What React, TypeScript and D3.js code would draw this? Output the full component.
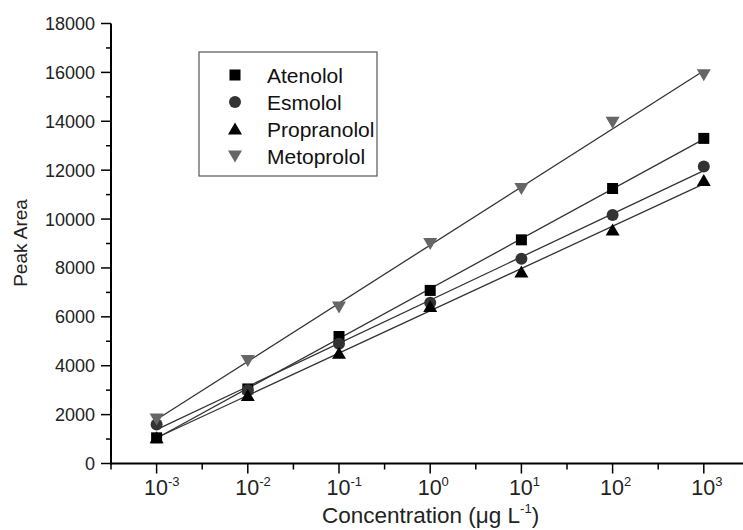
import React from "react";
import * as d3 from "d3";

const logConc = [-3, -2, -1, 0, 1, 2, 3];
const atenolol = [1050, 3050, 5195, 7080, 9150, 11250, 13300];
const esmolol = [1600, 3000, 4900, 6580, 8380, 10170, 12150];
const propranolol = [1050, 2780, 4510, 6420, 7830, 9550, 11580];
const metoprolol = [1820, 4210, 6400, 9000, 11250, 13960, 15900];
const yTicks = [0, 2000, 4000, 6000, 8000, 10000, 12000, 14000, 16000, 18000];
const xTickExps = ["-3", "-2", "-1", "0", "1", "2", "3"];

const series = [
  { name: "Atenolol", values: atenolol, shape: "square", color: "#000000" },
  { name: "Esmolol", values: esmolol, shape: "circle", color: "#333333" },
  { name: "Propranolol", values: propranolol, shape: "up", color: "#000000" },
  { name: "Metoprolol", values: metoprolol, shape: "down", color: "#666666" },
];

const FONT = "'Liberation Sans', Arial, sans-serif";

function fit(xs: number[], ys: number[]) {
  const mx = d3.mean(xs)!;
  const my = d3.mean(ys)!;
  let num = 0, den = 0;
  xs.forEach((x, i) => { num += (x - mx) * (ys[i] - my); den += (x - mx) ** 2; });
  const b = num / den;
  return { a: my - b * mx, b };
}

function Marker({ shape, x, y, color }: { shape: string; x: number; y: number; color: string }) {
  if (shape === "square") return <rect x={x - 5.5} y={y - 5.5} width={11} height={11} fill={color} />;
  if (shape === "circle") return <circle cx={x} cy={y} r={6} fill={color} />;
  if (shape === "up") return <path d={`M${x},${y - 6.5} L${x + 7},${y + 5.5} L${x - 7},${y + 5.5} Z`} fill={color} />;
  return <path d={`M${x},${y + 6.5} L${x + 7},${y - 5.5} L${x - 7},${y - 5.5} Z`} fill={color} />;
}

export default function App() {
  const W = 743, H = 530;
  const left = 111, bottom = 463.5, top = 23.5;
  const x = d3.scaleLinear().domain([-3.5, 3.5]).range([left, left + 7 * 91.2]);
  const y = d3.scaleLinear().domain([0, 18000]).range([bottom, top]);
  const minorY = d3.range(1000, 18000, 2000);
  const minorX = d3.range(-3.5, 3.6, 1);

  return (
    <svg width={W} height={H} style={{ position: "absolute", left: 0, top: 0, background: "#fff" }} fontFamily={FONT}>
      <rect width={W} height={H} fill="#fff" />
      {series.map((s) => {
        const f = fit(logConc, s.values);
        return (
          <line key={s.name} x1={x(-3)} y1={y(f.a + f.b * -3)} x2={x(3)} y2={y(f.a + f.b * 3)}
            stroke="#333" strokeWidth={1.3} />
        );
      })}
      {series.map((s) =>
        s.values.map((v, i) => (
          <Marker key={s.name + i} shape={s.shape} x={x(logConc[i])} y={y(v)} color={s.color} />
        ))
      )}
      <line x1={left} y1={top} x2={left} y2={bottom + 1} stroke="#000" strokeWidth={2} />
      {yTicks.map((t) => (
        <g key={t}>
          <line x1={left - 10} x2={left} y1={y(t)} y2={y(t)} stroke="#000" strokeWidth={1.5} />
          <text x={95} y={y(t)} dy="0.36em" textAnchor="end" fontSize={18} fill="#222">{t}</text>
        </g>
      ))}
      {minorY.map((t) => (
        <line key={t} x1={left - 5} x2={left} y1={y(t)} y2={y(t)} stroke="#000" strokeWidth={1.5} />
      ))}
      <line x1={left - 1} y1={bottom} x2={W} y2={bottom} stroke="#000" strokeWidth={2} />
      {logConc.map((v, i) => (
        <g key={v}>
          <line x1={x(v)} x2={x(v)} y1={bottom} y2={bottom + 10} stroke="#000" strokeWidth={1.5} />
          <text x={x(v) - 12.5} y={495} fontSize={21.5} fill="#222">
            10<tspan fontSize={13} dy={-9}>{xTickExps[i]}</tspan>
          </text>
        </g>
      ))}
      {minorX.map((v) => (
        <line key={v} x1={x(v)} x2={x(v)} y1={bottom} y2={bottom + 6} stroke="#000" strokeWidth={1.5} />
      ))}
      <text transform="translate(27,243) rotate(-90)" textAnchor="middle" fontSize={19} fill="#222">Peak Area</text>
      <text x={322} y={523} fontSize={22.5} fill="#222">
        Concentration (μg L<tspan fontSize={13} dy={-10}>-1</tspan><tspan dy={10}>)</tspan>
      </text>
      <rect x={199} y={52} width={178} height={124} fill="#fff" stroke="#555" strokeWidth={1.2} />
      {series.map((s, i) => (
        <g key={s.name}>
          <Marker shape={s.shape} x={235} y={75 + i * 27} color={s.color} />
          <text x={267} y={75 + i * 27} dy="0.36em" fontSize={21} fill="#111">{s.name}</text>
        </g>
      ))}
    </svg>
  );
}
